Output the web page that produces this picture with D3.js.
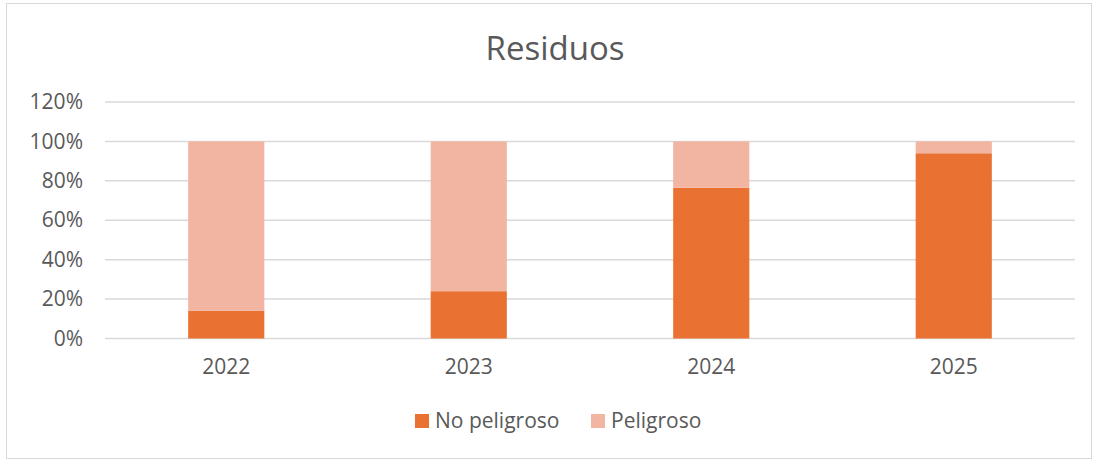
<!DOCTYPE html>
<html><head><meta charset="utf-8">
<script src="https://cdn.jsdelivr.net/npm/d3@7/dist/d3.min.js"></script>
<style>body{margin:0;background:#fff;}svg{display:block;font-family:"Open Sans","Liberation Sans",sans-serif;}</style>
</head><body>
<script>
const categories = ["2022","2023","2024","2025"];
const noPeligroso = [0.14, 0.24, 0.765, 0.94];
const peligroso = [0.86, 0.76, 0.235, 0.06];
const seriesNames = ["No peligroso","Peligroso"];
const yTicks = [0,0.2,0.4,0.6,0.8,1.0,1.2];
const colors = ["#E97132","#F1B5A2"];

(function(){
const W=1097,H=461;
const svg=d3.select("body").append("svg").attr("width",W).attr("height",H);
svg.append("rect").attr("x",6.5).attr("y",3.5).attr("width",1085).attr("height",455).attr("fill","#fff").attr("stroke","#d9d9d9");

const pl=105,pr=1075,pt=102,pb=338.5;
const x=d3.scaleBand().domain(categories).range([pl,pr]).paddingInner(0.686).paddingOuter(0.343);
const y=d3.scaleLinear().domain([0,1.2]).range([pb,pt]);

svg.append("text").attr("x",555).attr("y",60).attr("text-anchor","middle").attr("font-size",33).attr("fill","#595959").text("Residuos");

svg.append("g").selectAll("line").data(yTicks).join("line")
 .attr("x1",pl).attr("x2",pr).attr("y1",d=>y(d)).attr("y2",d=>y(d))
 .attr("stroke","#d9d9d9").attr("stroke-width",1.5);

const yAxis=d3.axisLeft(y).tickValues(yTicks).tickFormat(d=>Math.round(d*100)+"%").tickSize(0).tickPadding(22);
const ya=svg.append("g").attr("transform",`translate(${pl},0)`).call(yAxis);
ya.select(".domain").remove();
ya.selectAll("text").attr("font-size",21).attr("fill","#595959").attr("font-family","Open Sans, sans-serif");

const rows=categories.map((c,i)=>({cat:c,"No peligroso":noPeligroso[i],"Peligroso":peligroso[i]}));
const stacked=d3.stack().keys(seriesNames)(rows);
svg.selectAll("g.series").data(stacked).join("g").attr("class","series").attr("fill",(d,i)=>colors[i])
 .selectAll("rect").data(d=>d).join("rect")
 .attr("x",d=>x(d.data.cat)).attr("width",x.bandwidth())
 .attr("y",d=>y(d[1])).attr("height",d=>y(d[0])-y(d[1]));

const xAxis=d3.axisBottom(x).tickSize(0).tickPadding(21);
const xa=svg.append("g").attr("transform",`translate(0,${pb})`).call(xAxis);
xa.select(".domain").remove();
xa.selectAll("text").attr("font-size",21).attr("fill","#595959").attr("font-family","Open Sans, sans-serif");

const legX=[415,591];
const leg=svg.selectAll("g.leg").data(seriesNames).join("g").attr("class","leg")
 .attr("transform",(d,i)=>`translate(${legX[i]},414)`);
leg.append("rect").attr("width",14).attr("height",14).attr("fill",(d,i)=>colors[i]);
leg.append("text").attr("x",20).attr("y",7).attr("dy","0.35em").attr("font-size",21).attr("fill","#595959").text(d=>d);
})();
</script>
</body></html>
